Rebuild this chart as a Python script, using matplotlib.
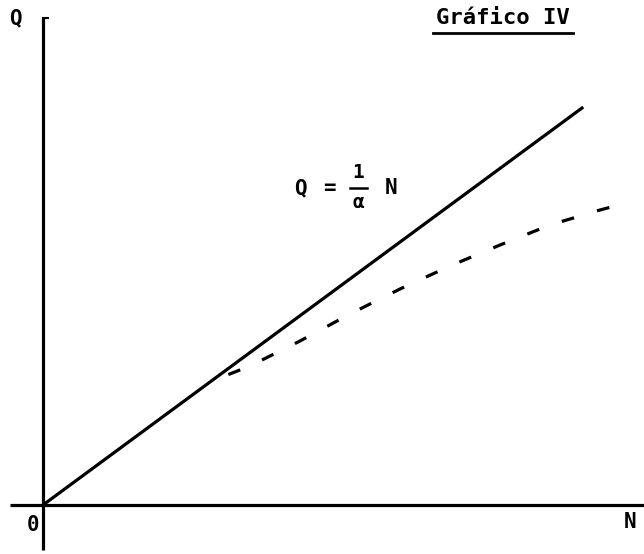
import matplotlib
matplotlib.use("Agg")
import matplotlib.pyplot as plt

# solid line Q = N / alpha
line_N = [0.0, 5.39]
line_Q = [0.0, 3.97]

# dashed curve that leaves the line
curve_N = [1.69, 2.07, 2.57, 3.07, 3.57, 4.07, 4.57, 5.07, 5.57, 5.72]
curve_Q = [1.24, 1.39, 1.64, 1.91, 2.16, 2.39, 2.60, 2.80, 2.95, 2.99]

font = dict(family="DejaVu Sans Mono", fontweight="bold", color="black")

fig = plt.figure(figsize=(6.44, 5.54), dpi=100)
ax = fig.add_axes([0, 0, 1, 1])
ax.set_xlim(-0.43, 6.01)
ax.set_ylim(-0.49, 5.05)
ax.axis("off")

# axes drawn by hand like the original sketch
ax.plot([0, 0], [-0.45, 4.87], color="black", lw=2.3, solid_capstyle="butt")
ax.plot([0, 0.05], [4.87, 4.87], color="black", lw=1.5)
ax.plot([-0.33, 6.01], [0, 0], color="black", lw=2.3, solid_capstyle="butt")

ax.plot(line_N, line_Q, color="black", lw=2.3)
ax.plot(curve_N, curve_Q, color="black", lw=2.3, linestyle=(6, (4, 7.5)))

ax.text(-0.28, 4.87, "Q", fontsize=15, ha="center", va="center", **font)
ax.text(-0.10, -0.20, "0", fontsize=15, ha="center", va="center", **font)
ax.text(5.87, -0.17, "N", fontsize=15, ha="center", va="center", **font)

# formula label
ax.text(2.57, 3.17, "Q", fontsize=15, ha="center", va="center", **font)
ax.text(2.86, 3.17, "=", fontsize=15, ha="center", va="center", **font)
ax.text(3.15, 3.32, "1", fontsize=14, ha="center", va="center", **font)
ax.plot([3.07, 3.24], [3.17, 3.17], color="black", lw=1.8)
ax.text(3.15, 3.02, "α", fontsize=14, ha="center", va="center", **font)
ax.text(3.48, 3.17, "N", fontsize=15, ha="center", va="center", **font)

# title with underline
ax.text(4.60, 4.87, "Gráfico IV", fontsize=16, ha="center", va="center", **font)
ax.plot([3.90, 5.30], [4.72, 4.72], color="black", lw=2)

fig.savefig("out.png", dpi=100)
